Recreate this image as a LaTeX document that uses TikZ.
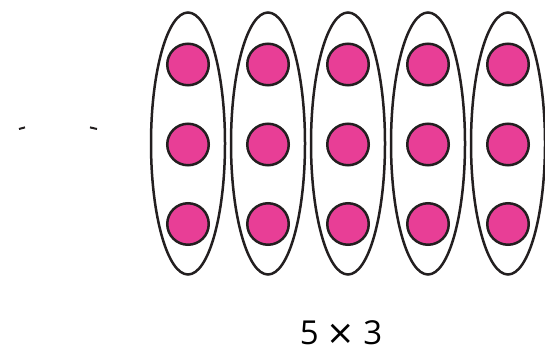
\documentclass[tikz,border=0pt]{standalone}
\usepackage{fontspec}
\setsansfont{Open Sans}
\newfontfamily\timesglyph{DejaVu Sans}
\usetikzlibrary{shapes.geometric}

\definecolor{dotpink}{RGB}{232,62,150}
\definecolor{inkline}{RGB}{35,31,32}

\begin{document}
\begin{tikzpicture}[
	x=1pt, y=-1pt,
	font=\sffamily,
	group/.style={
		draw=inkline,
		ellipse,
		line width=2.5pt,
		inner sep=0pt,
		minimum width=74pt,
		minimum height=262pt,
	},
	dot/.style={
		draw=inkline,
		fill=dotpink,
		circle,
		line width=2.5pt,
		inner sep=0pt,
		minimum size=41.5pt,
	},
	tick/.style={draw=inkline, line width=2pt},
]
\useasboundingbox (0,0) rectangle (545,352);

% five groups of three
\foreach \g/\gx in {1/188, 2/268, 3/348, 4/428, 5/508} {
	\node[group] (grp\g) at (\gx,143.5) {};
	\foreach \r/\ry in {1/64.5, 2/144.5, 3/224} {
		\node[dot] (dot\g\r) at (\gx,\ry) {};
	}
}

% stray marks on the left
\draw[tick] (19,129) -- (25,127.4);
\draw[tick] (90,127.4) -- (97,129);

\node[font=\fontsize{33}{33}\selectfont\sffamily, inner sep=0pt, anchor=base]
	(product) at (341,344.5)
	{5\hspace{8pt}{\timesglyph\fontsize{34}{34}\selectfont ×}\hspace{8pt}3};

\end{tikzpicture}
\end{document}
